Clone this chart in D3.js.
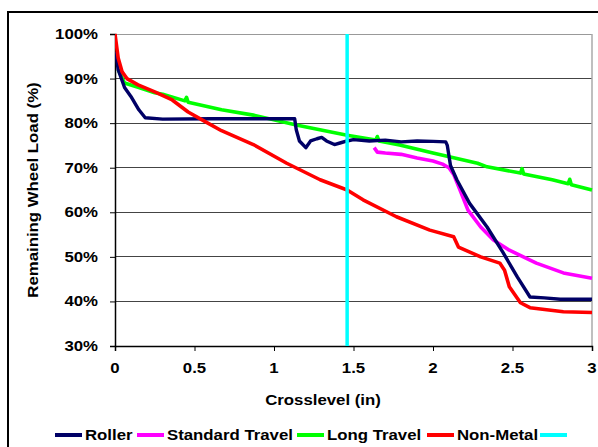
<!DOCTYPE html>
<html><head><meta charset="utf-8">
<script src="https://cdn.jsdelivr.net/npm/d3@7"></script>
<style>body{margin:0;background:#fff}svg{display:block}text{font-family:"Liberation Sans",Arial,sans-serif;font-weight:bold;fill:#000}</style>
</head><body>
<svg id="c" width="598" height="447"></svg>
<script>
const xTicks = [0, 0.5, 1, 1.5, 2, 2.5, 3];
const xTickLabels = ["0", "0.5", "1", "1.5", "2", "2.5", "3"];
const yTicks = [30, 40, 50, 60, 70, 80, 90, 100];
const yTickLabels = ["30%", "40%", "50%", "60%", "70%", "80%", "90%", "100%"];
const seriesNames = ["Roller", "Standard Travel", "Long Travel", "Non-Metal", ""];
const seriesColors = ["#000066", "#ff00ff", "#00ff00", "#ff0000", "#00ffff"];
const roller = [[0.005,96],[0.02,92],[0.06,88],[0.1,86],[0.15,83],[0.19,81.2],[0.3,80.9],[0.6,81],[0.9,81],[1.13,81],[1.14,78.5],[1.16,76],[1.2,74.5],[1.23,76],[1.27,76.5],[1.3,76.8],[1.33,76],[1.38,75.2],[1.42,75.6],[1.46,76],[1.5,76.3],[1.6,76],[1.7,76.2],[1.8,75.8],[1.9,76],[2.0,75.9],[2.08,75.8],[2.09,75],[2.11,70.5],[2.15,67.3],[2.23,62],[2.34,56.7],[2.44,51],[2.53,45.5],[2.61,41],[2.7,40.8],[2.8,40.5],[3.0,40.5]];
const standardTravel = [[1.63,74.5],[1.65,73.5],[1.7,73.3],[1.8,73],[1.9,72.2],[2.0,71.5],[2.06,70.8],[2.1,70],[2.13,68.5],[2.17,65],[2.22,60.5],[2.3,56.7],[2.38,53.8],[2.48,51.5],[2.65,48.6],[2.82,46.4],[3.0,45.2]];
const longTravel = [[0.02,92],[0.06,89],[0.15,88],[0.25,86.8],[0.3,86.5],[0.44,85],[0.45,85.8],[0.46,84.7],[0.67,83],[0.87,81.8],[1.14,79.6],[1.46,77.3],[1.64,76.2],[1.65,77],[1.66,76],[1.79,75.1],[2.0,73.3],[2.28,71],[2.34,70.2],[2.55,68.8],[2.56,69.8],[2.57,68.6],[2.75,67.3],[2.85,66.4],[2.86,67.4],[2.87,66.2],[3.0,65]];
const nonMetal = [[0,100],[0.02,94.6],[0.045,91.5],[0.075,90],[0.145,88.6],[0.25,87],[0.36,85.2],[0.46,82.5],[0.57,80.3],[0.67,78.3],[0.87,75.2],[1.08,71],[1.29,67.3],[1.46,65],[1.56,62.8],[1.77,59],[1.98,56],[2.13,54.5],[2.16,52.2],[2.3,50],[2.42,48.6],[2.45,47],[2.48,43.3],[2.55,39.7],[2.61,38.6],[2.82,37.7],[3.0,37.5]];
const markerX = [1.46];

const svg = d3.select("#c");
const x = d3.scaleLinear().domain([0,3]).range([115,592]);
const y = d3.scaleLinear().domain([30,100]).range([346,34]);
const SX = 1.12, FS = 15;

svg.append("rect").attr("x",8).attr("y",12).attr("width",620).attr("height",460)
  .attr("fill","none").attr("stroke","#000").attr("stroke-width",2);

svg.append("g").selectAll("line").data(yTicks.filter(d=>d>30)).join("line")
  .attr("x1",x(0)).attr("x2",x(3)).attr("y1",d=>y(d)).attr("y2",d=>y(d))
  .attr("stroke",d=>d===100?"#999":"#444").attr("stroke-width",1).attr("shape-rendering","crispEdges");
svg.append("line").attr("x1",x(3)).attr("x2",x(3)).attr("y1",y(100)).attr("y2",y(30))
  .attr("stroke","#aaa").attr("stroke-width",1.5);

const yAxis = d3.axisLeft(y).tickValues(yTicks).tickSize(5).tickFormat("");
const xAxis = d3.axisBottom(x).tickValues(xTicks).tickSize(5).tickFormat("");
const gy = svg.append("g").attr("transform",`translate(${x(0)},0)`).call(yAxis);
const gx = svg.append("g").attr("transform",`translate(0,${y(30)})`).call(xAxis);
[gy,gx].forEach(g=>{g.select(".domain").attr("stroke","#000").attr("stroke-width",1.5);g.selectAll(".tick line").attr("stroke","#000");});

yTicks.forEach((v,i)=>{
  svg.append("text").attr("transform",`translate(98,${y(v)+5}) scale(${SX},1)`)
    .attr("text-anchor","end").attr("font-size",FS).text(yTickLabels[i]);
});
xTicks.forEach((v,i)=>{
  svg.append("text").attr("transform",`translate(${x(v)},${373}) scale(${SX},1)`)
    .attr("text-anchor","middle").attr("font-size",FS).text(xTickLabels[i]);
});
svg.append("text").attr("transform",`translate(323,405) scale(${SX},1)`)
  .attr("text-anchor","middle").attr("font-size",FS).text("Crosslevel (in)");
svg.append("text").attr("transform",`translate(38,190) rotate(-90) scale(${SX},1)`)
  .attr("text-anchor","middle").attr("font-size",FS).text("Remaining Wheel Load (%)");

svg.append("clipPath").attr("id","pc").append("rect")
  .attr("x",x(0)).attr("y",y(100)-3).attr("width",x(3)-x(0)+3).attr("height",y(30)-y(100)+3);
const line = d3.line().x(d=>x(d[0])).y(d=>y(d[1]));
const pg = svg.append("g").attr("clip-path","url(#pc)");
pg.append("path").datum(longTravel).attr("d",line).attr("fill","none").attr("stroke",seriesColors[2]).attr("stroke-width",3.6).attr("stroke-linejoin","round");
pg.append("path").datum(standardTravel).attr("d",line).attr("fill","none").attr("stroke",seriesColors[1]).attr("stroke-width",3.6).attr("stroke-linejoin","round");
pg.append("path").datum(roller).attr("d",line).attr("fill","none").attr("stroke",seriesColors[0]).attr("stroke-width",3.4).attr("stroke-linejoin","round");
pg.append("path").datum(nonMetal).attr("d",line).attr("fill","none").attr("stroke",seriesColors[3]).attr("stroke-width",3.6).attr("stroke-linejoin","round");
markerX.forEach(m=>{
  svg.append("line").attr("x1",x(m)).attr("x2",x(m)).attr("y1",y(100)).attr("y2",y(30))
    .attr("stroke",seriesColors[4]).attr("stroke-width",3.5);
});

const legendX = [55, 137, 297, 427, 540];
seriesNames.forEach((n,i)=>{
  svg.append("line").attr("x1",legendX[i]).attr("x2",legendX[i]+27).attr("y1",435).attr("y2",435)
    .attr("stroke",seriesColors[i]).attr("stroke-width",4);
  if(n) svg.append("text").attr("transform",`translate(${legendX[i]+30},440) scale(${SX},1)`)
    .attr("font-size",FS).text(n);
});
</script>
</body></html>
